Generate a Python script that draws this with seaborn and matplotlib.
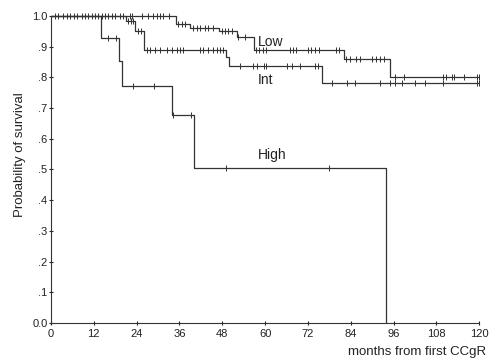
import numpy as np
import pandas as pd
import matplotlib
matplotlib.use('Agg')
import matplotlib.pyplot as plt
import seaborn as sns

# step functions: time of each drop and survival after it
low_t = [0, 35, 39, 47, 52, 57, 82, 95, 120]
low_s = [1.0, 0.974, 0.962, 0.952, 0.932, 0.889, 0.859, 0.802, 0.802]
int_t = [0, 21, 23.5, 26, 49, 50, 76, 120]
int_s = [1.0, 0.985, 0.952, 0.889, 0.865, 0.838, 0.781, 0.781]
high_t = [0, 14, 19, 20, 34, 40, 94]
high_s = [1.0, 0.928, 0.853, 0.772, 0.678, 0.506, 0.0]

# censored observations (months)
low_c = [1.1, 2.1, 3.5, 4.5, 5.4, 6.4, 7.2, 8.6, 9.4, 10.5, 11.4, 12.3, 13.3, 14.2,
         15.1, 16.1, 17, 17.9, 19.3, 20.3, 22.1, 22.6, 25.4, 27.3, 28.7, 29.6, 30.6,
         31.5, 33, 35.7, 36.6, 37.6, 39.9, 40.8, 41.8, 43.2, 44.1, 45.5, 47.9, 48.8,
         49.7, 50.7, 52.5, 54.4, 57.5, 58.3, 59.3, 60.2, 67, 67.8, 68.7, 72, 72.9, 74,
         75.1, 79.9, 80.7, 82.7, 83.9, 85.5, 86.6, 90, 91.1, 92.2, 93.4, 96.4, 98.8,
         109.8, 110.7, 112.4, 112.8, 115.6, 119.4, 120]
int_c = [21.7, 22.3, 23.1, 24.5, 25.1, 26.8, 27.8, 29.2, 30.6, 32.4, 33.8, 35.2, 36.2,
         37.1, 41.8, 42.7, 44.1, 45.5, 46.4, 47.4, 48.3, 53, 56.7, 57.7, 59.7, 60.3,
         66.1, 67.5, 69.8, 74, 74.9, 78.7, 82.9, 85.2, 92.2, 95, 96.4, 98.3, 102,
         104.9, 109.9, 119.3, 120]
high_c = [16, 18.2, 23, 28.9, 34.3, 39.3, 49, 78]

groups = [('Low', low_t, low_s, low_c), ('Int', int_t, int_s, int_c),
          ('High', high_t, high_s, high_c)]
label_pos = {'Low': (58, 0.915), 'Int': (58, 0.79), 'High': (58, 0.548)}

sns.set_style('ticks')
plt.rcParams['font.family'] = ['Liberation Sans', 'DejaVu Sans']

fig = plt.figure(figsize=(4.9, 3.62), dpi=100)
ax = fig.add_axes([0.104, 0.108, 0.874, 0.848])
line_col = '#333333'

for name, t, s, c in groups:
    steps = pd.DataFrame({'t': t, 's': s})
    sns.lineplot(data=steps, x='t', y='s', estimator=None, sort=False,
                 drawstyle='steps-post', color=line_col, lw=0.9, ax=ax, clip_on=False)
    idx = np.searchsorted(t, c, side='right') - 1
    cens = pd.DataFrame({'t': c, 's': np.array(s)[idx]})
    sns.scatterplot(data=cens, x='t', y='s', marker='|', s=20, linewidth=0.7,
                    color=line_col, ax=ax, clip_on=False, zorder=3)
    ax.text(*label_pos[name], name, fontsize=10, color='#222222', va='center')

ax.set_xlim(0, 120)
ax.set_ylim(0, 1.0)
ax.set_xticks(range(0, 121, 12))
ax.set_yticks(np.arange(0, 1.01, 0.1))
ax.set_yticklabels(['0.0', '.1', '.2', '.3', '.4', '.5', '.6', '.7', '.8', '.9', '1.0'])
ax.tick_params(direction='inout', length=3, width=0.8, labelsize=8, pad=1,
               colors='#222222')
ax.tick_params(axis='x', pad=3)
ax.set_xlabel('')
ax.set_ylabel('')
for side in ['top', 'right']:
    ax.spines[side].set_visible(False)
for side in ['left', 'bottom']:
    ax.spines[side].set_linewidth(0.8)
    ax.spines[side].set_color('#333333')

fig.text(20 / 490, 1 - 155 / 362, 'Probability of survival', rotation=90,
         fontsize=9.5, ha='center', va='center', color='#222222')
fig.text(486 / 490, 1 - 352 / 362, 'months from first CCgR', fontsize=9.5,
         ha='right', va='center', color='#222222')

fig.savefig('out.png', dpi=100)
